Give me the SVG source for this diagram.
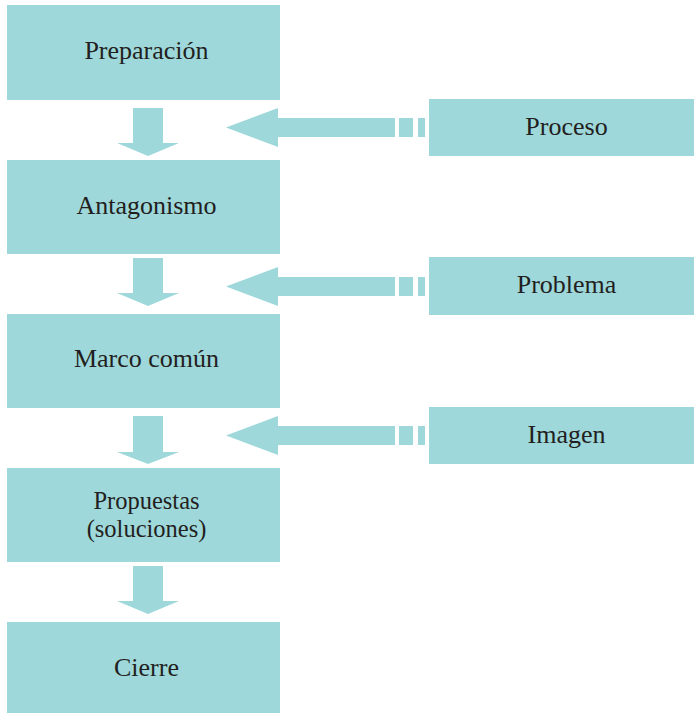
<svg xmlns="http://www.w3.org/2000/svg" width="694" height="713" viewBox="0 0 694 713">
<style>
.box{fill:#9ed8db}
.arr{fill:#9ed8db}
text{font-family:"Liberation Serif","Times New Roman",serif;font-size:26px;fill:#231f20;text-anchor:middle}
text.two{font-size:24.5px}
</style>
<rect width="694" height="713" fill="#ffffff"/>
<g id="connectors">
  <polygon class="arr" points="133,108 163,108 163,143 179,143 148,156 117,143 133,143"/>
  <polygon class="arr" points="133,258 163,258 163,293 179,293 148,306 117,293 133,293"/>
  <polygon class="arr" points="133,416 163,416 163,452 179,452 148,464 117,452 133,452"/>
  <polygon class="arr" points="133,566 163,566 163,601 179,601 148,614 117,601 133,601"/>
  <g id="arrow-proceso">
    <polygon class="arr" points="226,127.5 278,108 278,118 395,118 395,137 278,137 278,147"/>
    <rect class="arr" x="399" y="118" width="14" height="19"/>
    <rect class="arr" x="418" y="118" width="7" height="19"/>
  </g>
  <g id="arrow-problema">
    <polygon class="arr" points="226,286.5 278,267 278,277 395,277 395,296 278,296 278,306"/>
    <rect class="arr" x="399" y="277" width="14" height="19"/>
    <rect class="arr" x="418" y="277" width="7" height="19"/>
  </g>
  <g id="arrow-imagen">
    <polygon class="arr" points="226,435.5 278,416 278,426 395,426 395,445 278,445 278,455"/>
    <rect class="arr" x="399" y="426" width="14" height="19"/>
    <rect class="arr" x="418" y="426" width="7" height="19"/>
  </g>
</g>
<g id="preparacion"><rect class="box" x="7" y="5" width="273" height="95"/><text x="146.5" y="59">Preparación</text></g>
<g id="antagonismo"><rect class="box" x="7" y="160" width="273" height="94"/><text x="146.5" y="214">Antagonismo</text></g>
<g id="marco"><rect class="box" x="7" y="314" width="273" height="94"/><text x="146.5" y="367">Marco común</text></g>
<g id="propuestas"><rect class="box" x="7" y="468" width="273" height="94"/><text class="two" x="146.5" y="509">Propuestas</text><text class="two" x="146.5" y="537">(soluciones)</text></g>
<g id="cierre"><rect class="box" x="7" y="622" width="273" height="91"/><text x="146.5" y="676">Cierre</text></g>
<g id="proceso"><rect class="box" x="429" y="99" width="265" height="57"/><text x="566.5" y="135">Proceso</text></g>
<g id="problema"><rect class="box" x="429" y="257" width="265" height="58"/><text x="566.5" y="293">Problema</text></g>
<g id="imagen"><rect class="box" x="429" y="407" width="265" height="57"/><text x="566.5" y="443">Imagen</text></g>
</svg>
